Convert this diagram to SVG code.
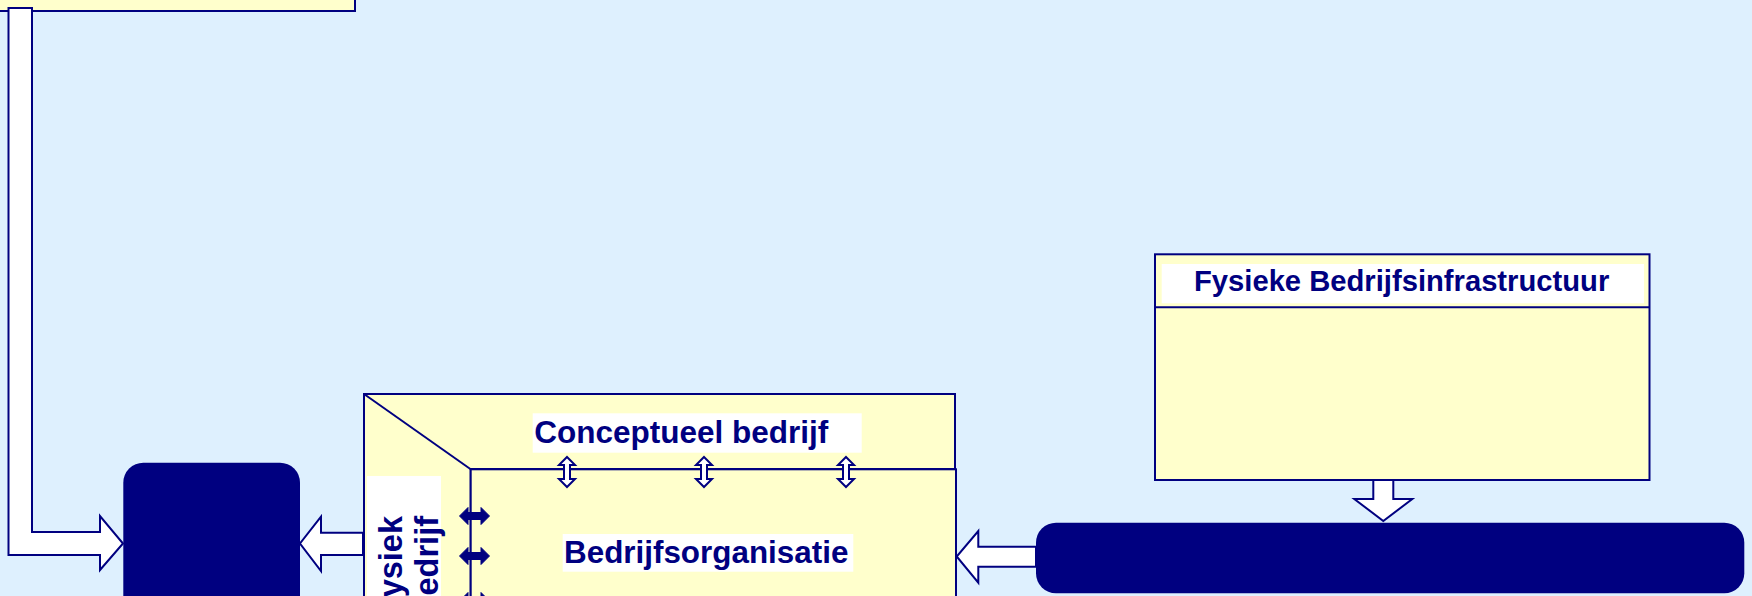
<svg xmlns="http://www.w3.org/2000/svg" width="1752" height="596" viewBox="0 0 1752 596">
<defs>
<style>
.box{fill:#FFFFCC;stroke:#000080;stroke-width:2}
.dark{fill:#000080;stroke:none}
.hollow{fill:#FFFFFF;stroke:#000080;stroke-width:2;stroke-linejoin:miter}
.solid{fill:#000080;stroke:#000080;stroke-width:1}
.bg{fill:#FFFFFF}
.lbl{font-family:"Liberation Sans",Arial,sans-serif;font-weight:bold;fill:#000080}
</style>
</defs>
<rect x="0" y="0" width="1752" height="596" fill="#DEF0FE"/>

<g id="top-box">
<rect class="box" x="-4" y="-12" width="359" height="23"/>
</g>

<g id="conceptueel-bedrijf">
<polygon class="box" points="364,394 955,394 955,469 470.7,469 470.7,600 364,600"/>
<line x1="364" y1="394" x2="470.7" y2="469.3" stroke="#000080" stroke-width="2"/>
<rect class="bg" x="532.7" y="413.3" width="329" height="39.4"/>
<text class="lbl" x="534.3" y="443" font-size="31.5">Conceptueel bedrijf</text>
</g>

<g id="fysiek-bedrijf">
<rect class="bg" x="367" y="476" width="74" height="130"/>
<text class="lbl" font-size="32.5" text-anchor="end" transform="translate(402,516) rotate(-90)">Fysiek</text>
<text class="lbl" font-size="32.5" text-anchor="end" transform="translate(438,516) rotate(-90)">Bedrijf</text>
</g>

<g id="bedrijfsorganisatie">
<rect class="box" x="470.7" y="469.3" width="485.3" height="140"/>
<rect class="bg" x="562.7" y="534" width="290.6" height="37.7"/>
<text class="lbl" x="564" y="563" font-size="31.4">Bedrijfsorganisatie</text>
</g>

<g id="fysieke-bedrijfsinfrastructuur">
<rect class="box" x="1155" y="254.3" width="494.5" height="225.7"/>
<line x1="1155" y1="307.3" x2="1649.5" y2="307.3" stroke="#000080" stroke-width="2"/>
<rect class="bg" x="1161.7" y="264" width="482.3" height="39.3"/>
<text class="lbl" x="1194" y="291" font-size="29.2">Fysieke Bedrijfsinfrastructuur</text>
</g>

<g id="dark-left">
<rect class="dark" x="123.3" y="462.7" width="176.7" height="160" rx="20" ry="20"/>
</g>

<g id="dark-bar">
<rect class="dark" x="1036" y="522.7" width="708.3" height="70.6" rx="20" ry="20"/>
</g>

<g id="connectors">
<path class="hollow" d="M8.5,8 L32,8 L32,532 L100,532 L100,516 L123,543.5 L100,570 L100,555 L8.5,555 Z"/>
<path class="hollow" d="M363,532.7 L321,532.7 L321,516.7 L300,543.5 L321,571 L321,555 L363,555 Z"/>
<path class="hollow" d="M1036,546.7 L978.3,546.7 L978.3,531 L956.7,556.5 L978.3,582.7 L978.3,566.7 L1036,566.7 Z"/>
<path class="hollow" d="M1373.3,480 L1393.3,480 L1393.3,499 L1412.3,499 L1383.3,521 L1354.3,499 L1373.3,499 Z"/>
<path class="hollow" d="M567,457 L575,465 L570,465 L570,479 L575,479 L567,487 L559,479 L564,479 L564,465 L559,465 Z"/>
<path class="hollow" d="M704,457 L712,465 L707,465 L707,479 L712,479 L704,487 L696,479 L701,479 L701,465 L696,465 Z"/>
<path class="hollow" d="M846,457 L854,465 L849,465 L849,479 L854,479 L846,487 L838,479 L843,479 L843,465 L838,465 Z"/>
<path class="solid" d="M459.5,516 L468,507.5 L468,512.5 L481,512.5 L481,507.5 L489.5,516 L481,524.5 L481,519.5 L468,519.5 L468,524.5 Z"/>
<path class="solid" d="M459.5,556 L468,547.5 L468,552.5 L481,552.5 L481,547.5 L489.5,556 L481,564.5 L481,559.5 L468,559.5 L468,564.5 Z"/>
<path class="solid" d="M459.5,601 L468,592.5 L468,597.5 L481,597.5 L481,592.5 L489.5,601 L481,609.5 L481,604.5 L468,604.5 L468,609.5 Z"/>
</g>
</svg>
